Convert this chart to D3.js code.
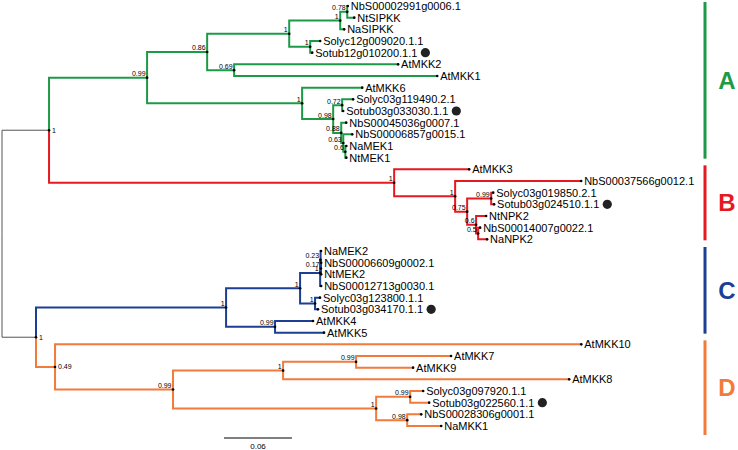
<!DOCTYPE html>
<html>
<head>
<meta charset="utf-8">
<script src="https://cdn.jsdelivr.net/npm/d3@7"></script>
<style>
body { margin: 0; background: #fff; }
svg { display: block; font-family: Arial, "Liberation Sans", sans-serif; }
</style>
</head>
<body>
<svg id="tree" width="738" height="450"></svg>
<script>
// edges: [node, parent, branch length (subst/site), posterior support]
const backboneEdges = [
  ["root", null, 0, null],
  ["AB", "root", 0.0415, 1],
  ["CD", "root", 0.0300, 1],
  ["A", "AB", 0.0865, 0.99],
  ["B", "AB", 0.3045, 1],
  ["C", "CD", 0.1677, 1],
  ["D", "CD", 0.0168, 0.49]
];

const cladeAEdges = [
  ["A086", "A", 0.0530, 0.86],
  ["A1a", "A086", 0.0724, 1],
  ["SIPKK", "A1a", 0.0450, 1],
  ["A078", "SIPKK", 0.0062, 0.78],
  ["NbS00002991g0006.1", "A078", 0.0005],
  ["NtSIPKK", "A078", 0.0062],
  ["NaSIPKK", "SIPKK", 0.0035],
  ["Sol12", "A1a", 0.0185, 1],
  ["Solyc12g009020.1.1", "Sol12", 0.0088],
  ["Sotub12g010200.1.1", "Sol12", 0.0018],
  ["A069", "A086", 0.0238, 0.69],
  ["AtMKK2", "A069", 0.1447],
  ["AtMKK1", "A069", 0.1792],
  ["A1b", "A", 0.1368, 1],
  ["AtMKK6", "A1b", 0.0530],
  ["A098", "A1b", 0.0274, 0.98],
  ["A072", "A098", 0.0079, 0.72],
  ["Solyc03g119490.2.1", "A072", 0.0097],
  ["Sotub03g033030.1.1", "A072", 0.0009],
  ["A088", "A098", 0.0071, 0.88],
  ["NbS00045036g0007.1", "A088", 0.0044],
  ["A063", "A088", 0.0018, 0.63],
  ["NbS00006857g0015.1", "A063", 0.0079],
  ["A060", "A063", 0.0018, 0.6],
  ["NaMEK1", "A060", 0.0009],
  ["NtMEK1", "A060", 0.0009]
];

const cladeBEdges = [
  ["AtMKK3", "B", 0.0662],
  ["B1", "B", 0.0538, 1],
  ["NbS00037566g0012.1", "B1", 0.1112],
  ["B075", "B1", 0.0106, 0.75],
  ["B099", "B075", 0.0212, 0.99],
  ["Solyc03g019850.2.1", "B099", 0.0018],
  ["Sotub03g024510.1.1", "B099", 0.0026],
  ["B06", "B075", 0.0079, 0.6],
  ["NtNPK2", "B06", 0.0088],
  ["B05", "B06", 0.0018, 0.5],
  ["NbS00014007g0022.1", "B05", 0.0018],
  ["NaNPK2", "B05", 0.0079]
];

const cladeCEdges = [
  ["C1", "C", 0.0653, 1],
  ["C3", "C1", 0.0177, 1],
  ["C023", "C3", 0.0004, 0.23],
  ["NaMEK2", "C023", 0.0004],
  ["C017", "C023", 0.0003, 0.17],
  ["NbS00006609g0002.1", "C017", 0.0002],
  ["NtMEK2", "C017", 0.0002],
  ["NbS00012713g0030.1", "C3", 0.0009],
  ["C6", "C1", 0.0132, 1],
  ["Solyc03g123800.1.1", "C6", 0.0044],
  ["Sotub03g034170.1.1", "C6", 0.0026],
  ["C099", "C", 0.0432, 0.99],
  ["AtMKK4", "C099", 0.0335],
  ["AtMKK5", "C099", 0.0432]
];

const cladeDEdges = [
  ["AtMKK10", "D", 0.4643],
  ["D099", "D", 0.1041, 0.99],
  ["D1a", "D099", 0.0971, 1],
  ["D099b", "D1a", 0.0644, 0.99],
  ["AtMKK7", "D099b", 0.0838],
  ["AtMKK9", "D099b", 0.0503],
  ["AtMKK8", "D1a", 0.2524],
  ["D1b", "D099", 0.1792, 1],
  ["D099c", "D1b", 0.0300, 0.99],
  ["Solyc03g097920.1.1", "D099c", 0.0115],
  ["Sotub03g022560.1.1", "D099c", 0.0168],
  ["D098", "D1b", 0.0274, 0.98],
  ["NbS00028306g0001.1", "D098", 0.0124],
  ["NaMKK1", "D098", 0.0300]
];

const cladeNames = ["A", "B", "C", "D"];
const markedTips = ["Sotub12g010200.1.1", "Sotub03g033030.1.1", "Sotub03g024510.1.1",
                    "Sotub03g034170.1.1", "Sotub03g022560.1.1"];
const scaleBarValue = 0.06;

// styles
const cladeColor = { A: "#1d9a48", B: "#e5191f", C: "#1c3f94", D: "#f27a3a" };
const labelRight = new Set(["AB", "CD", "D"]);

const svg = d3.select("#tree");

const allEdges = [...backboneEdges, ...cladeAEdges, ...cladeBEdges, ...cladeCEdges, ...cladeDEdges];
const root = d3.stratify().id(d => d[0]).parentId(d => d[1])(allEdges);

root.eachBefore(n => { n.dist = n.parent ? n.parent.dist + n.data[2] : 0; });

const x = d3.scaleLinear().domain([0, 0.5]).range([2, 568.7]);
const y = d3.scalePoint().domain(root.leaves().map(d => d.id)).range([6, 426]);

root.eachAfter(n => {
  n.px = x(n.dist);
  n.py = n.children ? (n.children[0].py + n.children[n.children.length - 1].py) / 2 : y(n.id);
});
root.eachBefore(n => {
  n.clade = cladeNames.includes(n.id) ? n.id : (n.parent ? n.parent.clade : null);
});

const nodes = root.descendants().filter(n => n.parent);

// branches (root ones first so coloured ones sit on top)
svg.append("g")
  .selectAll("path")
  .data(nodes.slice().sort((a, b) => (a.clade ? 1 : 0) - (b.clade ? 1 : 0)))
  .join("path")
  .attr("d", n => `M${n.parent.px},${n.parent.py}V${n.py}H${n.px}`)
  .attr("fill", "none")
  .attr("stroke", n => n.clade ? cladeColor[n.clade] : "#555")
  .attr("stroke-width", n => n.clade ? 2 : 1);

// node dots
svg.append("g")
  .selectAll("circle")
  .data(nodes)
  .join("circle")
  .attr("cx", n => n.px)
  .attr("cy", n => n.py)
  .attr("r", 1.3)
  .attr("fill", "#000");

// support values
svg.append("g")
  .selectAll("text")
  .data(nodes.filter(n => n.children && n.data[3] != null))
  .join("text")
  .attr("x", n => labelRight.has(n.id) ? n.px + 3 : n.px - 1.5)
  .attr("y", n => labelRight.has(n.id) ? n.py : n.py - 1.5)
  .attr("dy", n => labelRight.has(n.id) ? "0.35em" : 0)
  .attr("text-anchor", n => labelRight.has(n.id) ? "start" : "end")
  .attr("font-size", 7)
  .attr("fill", "#000")
  .text(n => n.data[3]);

// tip labels
const tips = svg.append("g")
  .selectAll("text")
  .data(root.leaves())
  .join("text")
  .attr("x", n => n.px + 3)
  .attr("y", n => n.py)
  .attr("dy", "0.35em")
  .attr("font-size", 11)
  .attr("fill", "#000")
  .text(n => n.id);

tips.filter(n => markedTips.includes(n.id)).each(function(n) {
  const w = this.getComputedTextLength();
  svg.append("circle")
    .attr("cx", n.px + 3 + w + 8)
    .attr("cy", n.py)
    .attr("r", 4.6)
    .attr("fill", "#222");
});

// scale bar
const barLen = x(scaleBarValue) - x(0);
const bar = svg.append("g").attr("transform", "translate(224,438)");
bar.append("line").attr("x1", 0).attr("x2", barLen).attr("stroke", "#000").attr("stroke-width", 1);
bar.append("text").attr("x", barLen / 2).attr("y", 11).attr("text-anchor", "middle")
  .attr("font-size", 8).text(scaleBarValue);

// clade brackets
const cladeNodes = cladeNames.map(c => root.find(n => n.id === c));
const bracketTop = n => y(n.leaves()[0].id) - 4;
const bracketBottom = n => y(n.leaves()[n.leaves().length - 1].id) + (n.id === "D" ? 9 : 1);

const brackets = svg.append("g")
  .selectAll("g")
  .data(cladeNodes)
  .join("g");

brackets.append("line")
  .attr("x1", 705).attr("x2", 705)
  .attr("y1", bracketTop)
  .attr("y2", bracketBottom)
  .attr("stroke", n => cladeColor[n.id])
  .attr("stroke-width", 3);

brackets.append("text")
  .attr("x", 727)
  .attr("y", n => (bracketTop(n) + bracketBottom(n)) / 2)
  .attr("dy", "0.35em")
  .attr("text-anchor", "middle")
  .attr("font-size", 24)
  .attr("font-weight", "bold")
  .attr("fill", n => cladeColor[n.id])
  .text(n => n.id);
</script>
</body>
</html>
